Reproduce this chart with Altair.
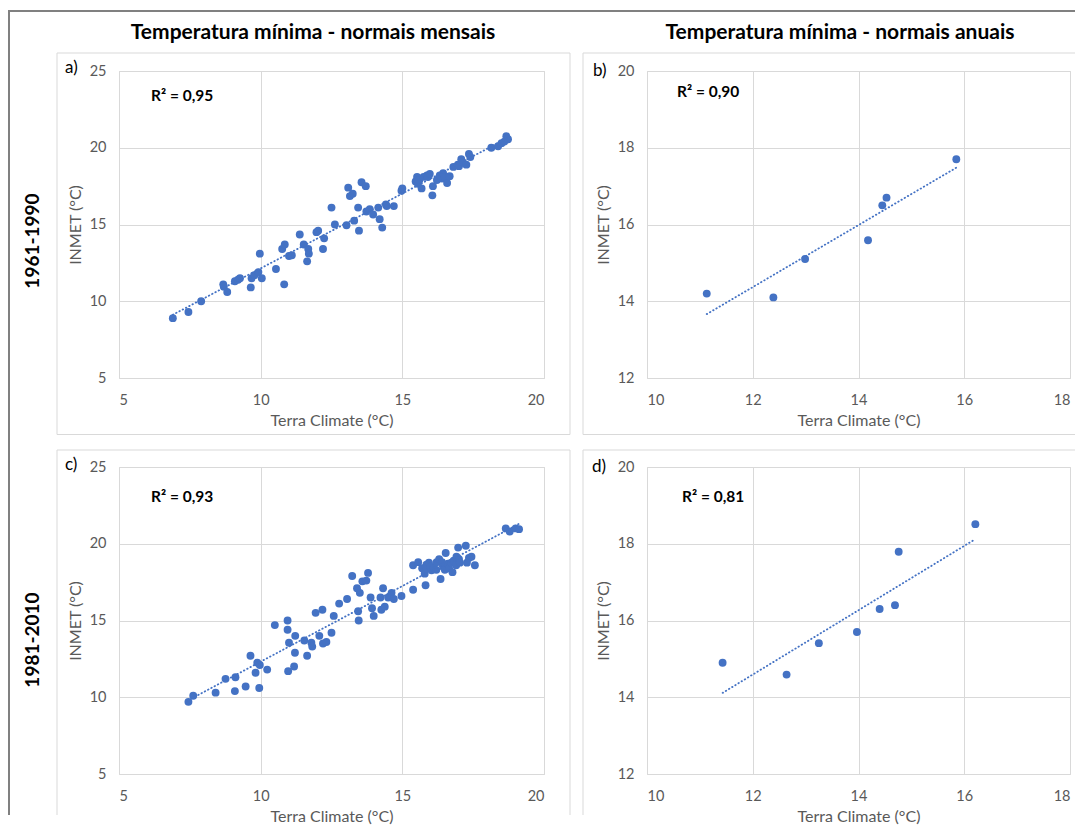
import altair as alt
import pandas as pd

# ---------------- data ----------------
# a) 1961-1990, monthly normals
a_x = [6.9, 7.45, 7.9, 8.68, 8.7, 8.82, 9.09, 9.2, 9.27, 9.65, 9.68, 9.78, 9.92, 9.97,
       10.04, 10.54, 10.76, 10.85, 10.83, 11.0, 11.1, 11.38, 11.52, 11.68, 11.7, 11.64,
       11.97, 12.03, 12.2, 12.24, 12.5, 12.62, 13.03, 13.09, 13.15, 13.25, 13.3, 13.44,
       13.47, 13.56, 13.71, 13.73, 13.85, 13.97, 14.15, 14.2, 14.29, 14.42, 14.45, 14.7,
       14.97, 15.0, 15.47, 15.52, 15.55, 15.6, 15.68, 15.75, 15.87, 15.9, 15.97, 16.06,
       16.08, 16.22, 16.32, 16.4, 16.44, 16.5, 16.58, 16.67, 16.8, 16.96, 17.0, 17.08,
       17.14, 17.26, 17.35, 17.4, 18.14, 18.38, 18.5, 18.6, 18.67, 18.73]
a_y = [8.9, 9.3, 10.0, 11.1, 10.95, 10.6, 11.3, 11.4, 11.5, 10.9, 11.5, 11.7, 11.9, 13.1,
       11.5, 12.1, 13.4, 13.7, 11.1, 12.95, 13.0, 14.35, 13.7, 13.4, 13.1, 12.6,
       14.5, 14.6, 13.4, 14.1, 16.1, 15.0, 14.95, 17.4, 16.85, 17.0, 15.25, 16.1,
       14.6, 17.75, 17.5, 15.85, 16.0, 15.65, 16.1, 15.35, 14.8, 16.3, 16.2, 16.2,
       17.2, 17.35, 17.8, 18.1, 17.65, 17.9, 17.35, 18.1, 18.2, 18.1, 18.3, 16.9,
       17.5, 17.9, 18.2, 18.0, 18.35, 18.1, 17.7, 18.15, 18.75, 18.9, 18.8, 19.25,
       19.05, 18.9, 19.6, 19.4, 20.0, 20.1, 20.3, 20.4, 20.75, 20.55]

# b) 1961-1990, annual normals
b_x = [11.13, 12.39, 12.99, 14.18, 14.45, 14.53, 15.85]
b_y = [14.2, 14.1, 15.1, 15.59, 16.5, 16.7, 17.7]

# c) 1981-2010, monthly normals
c_x = [7.45, 7.62, 8.41, 8.76, 9.09, 9.11, 9.47, 9.64, 9.82, 9.88, 9.95, 9.97, 10.23,
       10.5, 10.95, 10.95, 10.97, 11.0, 11.18, 11.21, 11.22, 11.54, 11.64, 11.79, 11.82,
       11.94, 12.07, 12.18, 12.2, 12.32, 12.5, 12.58, 12.77, 13.05, 13.23, 13.4, 13.44,
       13.46, 13.5, 13.59, 13.73, 13.79, 13.88, 13.93, 13.99, 14.23, 14.26, 14.32, 14.38,
       14.5, 14.62, 14.7, 14.97, 15.38, 15.38, 15.56, 15.7, 15.79, 15.82, 15.85, 15.85,
       15.94, 16.0, 16.03, 16.11, 16.2, 16.21, 16.3, 16.35, 16.4, 16.44, 16.5, 16.53,
       16.61, 16.65, 16.73, 16.77, 16.81, 16.9, 16.91, 16.97, 17.0, 17.03, 17.24, 17.28,
       17.35, 17.44, 17.56, 18.65, 18.79, 19.0, 19.12]
c_y = [9.7, 10.1, 10.3, 11.2, 10.4, 11.3, 10.7, 12.7, 11.6, 12.25, 10.6, 12.1, 11.8,
       14.7, 15.0, 14.4, 11.7, 13.55, 12.0, 12.9, 14.0, 13.7, 12.7, 13.55, 13.3,
       15.5, 14.0, 15.7, 13.5, 13.6, 14.2, 15.3, 16.1, 16.4, 17.9, 17.1, 15.6,
       15.0, 16.8, 17.55, 17.6, 18.1, 16.5, 15.8, 15.3, 16.5, 15.7, 17.1, 15.9,
       16.5, 16.8, 16.4, 16.6, 17.0, 18.6, 18.8, 18.4, 18.05, 17.3, 18.64, 18.4,
       18.77, 18.5, 18.27, 18.42, 18.3, 18.8, 19.0, 17.7, 18.8, 18.5, 18.3, 19.4,
       18.7, 18.4, 18.77, 18.15, 18.9, 18.6, 19.15, 19.75, 19.0, 18.77, 19.87, 18.77,
       19.07, 19.15, 18.6, 21.0, 20.8, 21.0, 20.95]

# d) 1981-2010, annual normals
d_x = [11.43, 12.64, 13.25, 13.97, 14.4, 14.69, 14.76, 16.21]
d_y = [14.9, 14.59, 15.41, 15.7, 16.3, 16.4, 17.79, 18.51]

col_titles = ["Temperatura mínima - normais mensais", "Temperatura mínima - normais anuais"]
row_titles = ["1961-1990", "1981-2010"]
r2_labels = ["R² = 0,95", "R² = 0,90", "R² = 0,93", "R² = 0,81"]
letters = ["a)", "b)", "c)", "d)"]
x_title = "Terra Climate (°C)"
y_title = "INMET (°C)"

FONT = "Lato"
BLUE = "#4472C4"
BOX = "#d9d9d9"
H = 307
one = pd.DataFrame({"k": [0]})


def rule(x, y, x2=None, y2=None, color=BOX, width=1):
    enc = dict(x=alt.value(x), y=alt.value(y))
    if x2 is not None:
        enc["x2"] = alt.value(x2)
    if y2 is not None:
        enc["y2"] = alt.value(y2)
    return alt.Chart(one).mark_rule(color=color, strokeWidth=width).encode(**enc)


def text(t, x, y, size, bold=False, angle=0, align="left", color="black"):
    kw = dict(text=t, fontSize=size, font=FONT, color=color, align=align,
              baseline="middle", fontWeight="bold" if bold else "normal")
    if angle:
        kw["angle"] = angle
    return alt.Chart(one).mark_text(**kw).encode(x=alt.value(x), y=alt.value(y))


def panel(xs, ys, xdom, xvals, ydom, yvals, w, r2, r2xy, letter, letxy, decor):
    df = pd.DataFrame({"x": xs, "y": ys})
    base = alt.Chart(df).encode(
        x=alt.X("x:Q", scale=alt.Scale(domain=xdom, nice=False, zero=False),
                axis=alt.Axis(values=xvals, title=x_title, labelPadding=15, titlePadding=6)),
        y=alt.Y("y:Q", scale=alt.Scale(domain=ydom, nice=False, zero=False),
                axis=alt.Axis(values=yvals, title=y_title, labelPadding=13, titlePadding=6)),
    )
    pts = base.mark_circle(size=62, color=BLUE, opacity=1)
    trend = base.transform_regression("x", "y").mark_line(
        color=BLUE, strokeWidth=1.8, strokeDash=[0.5, 3.2], strokeCap="round")
    layers = decor + [pts, trend,
                      text(r2, r2xy[0], r2xy[1], 15.5, bold=True),
                      text(letter, letxy[0], letxy[1], 17)]
    return alt.layer(*layers).properties(width=w, height=H)


# panel boxes and figure frame (decoration)
dec_a = [
    rule(-111, -60, x2=956, color="#808080", width=2),
    rule(-110, -61, y2=744, color="#808080", width=2),
    rule(-62, -18, x2=451), rule(-62, 363.5, x2=451),
    rule(-62, -18, y2=363.5), rule(451, -18, y2=363.5),
    text(col_titles[0], 194, -38, 21, bold=True, align="center"),
    text(row_titles[0], -86, 170, 19, bold=True, angle=270, align="center"),
]
dec_b = [
    rule(-64, -18, x2=428), rule(-64, 363.5, x2=428),
    rule(-64, -18, y2=363.5),
    text(col_titles[1], 193, -38, 21, bold=True, align="center"),
]
dec_c = [
    rule(-62, -17, x2=451),
    rule(-62, -17, y2=348), rule(451, -17, y2=348),
    text(row_titles[1], -86, 173, 19, bold=True, angle=270, align="center"),
]
dec_d = [
    rule(-64, -17, x2=428),
    rule(-64, -17, y2=348),
]

pa = panel(a_x, a_y, [5, 20], [5, 10, 15, 20], [5, 25], [5, 10, 15, 20, 25], 425,
           r2_labels[0], (32, 25), letters[0], (-54, -3), dec_a)
pb = panel(b_x, b_y, [10, 18], [10, 12, 14, 16, 18], [12, 20], [12, 14, 16, 18, 20], 423,
           r2_labels[1], (30, 21), letters[1], (-54, 0), dec_b)
pc = panel(c_x, c_y, [5, 20], [5, 10, 15, 20], [5, 25], [5, 10, 15, 20, 25], 425,
           r2_labels[2], (32, 30), letters[2], (-54, -2), dec_c)
pd_ = panel(d_x, d_y, [10, 18], [10, 12, 14, 16, 18], [12, 20], [12, 14, 16, 18, 20], 423,
            r2_labels[3], (35, 30), letters[3], (-55, 0), dec_d)

chart = alt.concat(
    pa, pb, pc, pd_, columns=2,
    spacing={"row": 89, "column": 103}, bounds="flush",
).properties(
    padding={"left": -2, "top": 0, "right": 0, "bottom": 0},
    background="white",
).configure_view(
    stroke=BOX, strokeWidth=1, fill="white"
).configure_axis(
    grid=True, gridColor=BOX, gridWidth=1, domain=False, ticks=False, tickSize=0,
    labelColor="#595959", labelFontSize=14.5, labelFont=FONT,
    titleColor="#595959", titleFontSize=16, titleFont=FONT, titleFontWeight="normal",
)

chart.save("out.html", embed_options={"renderer": "svg", "actions": False})
